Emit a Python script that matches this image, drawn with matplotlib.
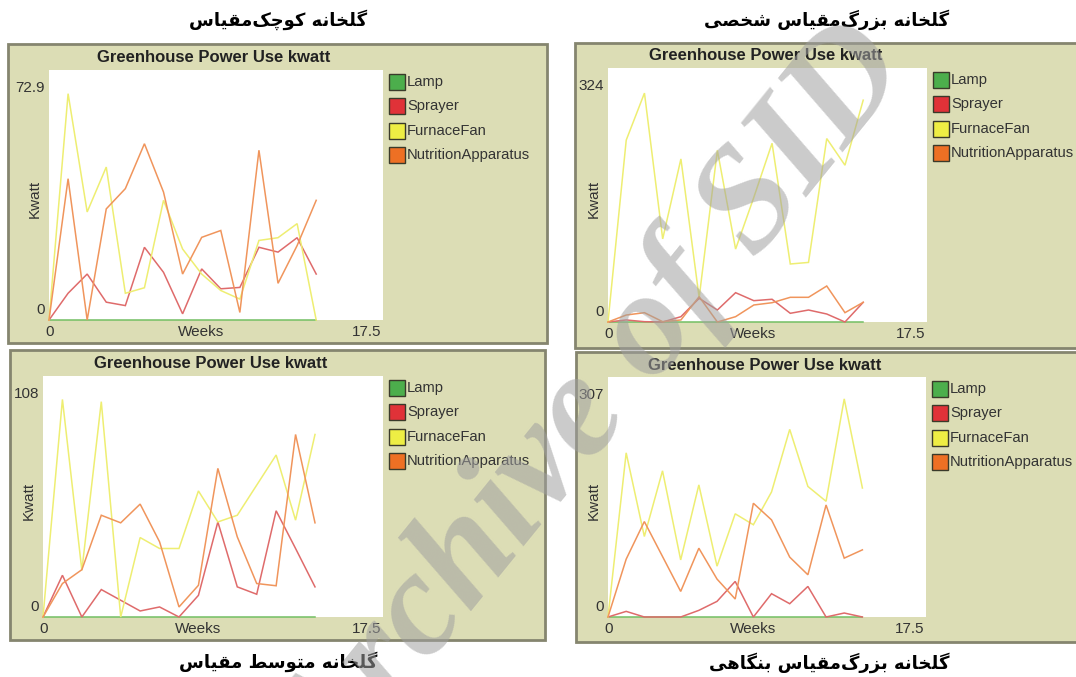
import matplotlib
matplotlib.use("Agg")
import matplotlib.pyplot as plt
from matplotlib.patches import Rectangle

# ---------------------------------------------------------------
# Datos
# ---------------------------------------------------------------
weeks = [0, 1, 2, 3, 4, 5, 6, 7, 8, 9, 10, 11, 12, 13, 14]
pen_names = ["Lamp", "Sprayer", "FurnaceFan", "NutritionApparatus"]
y_max_labels = ["72.9", "324", "108", "307"]
y_max_values = [72.9, 324, 108, 307]

lamp = [0, 0, 0, 0, 0, 0, 0, 0, 0, 0, 0, 0, 0, 0, 0]

# gulkhane kuchak-meqyas
small_sprayer = [0, 7.8, 13.4, 5.2, 4.2, 21.2, 13.9, 1.8, 14.9, 9.1, 9.5, 21.2, 19.8, 24.0, 13.4]
small_fan = [0, 66.0, 31.5, 44.6, 7.8, 9.4, 34.9, 20.7, 13.4, 8.6, 6.1, 23.2, 24.0, 28.1, 0]
small_nutrition = [0, 41.2, 0, 32.4, 38.3, 51.4, 37.3, 13.4, 24.1, 26.1, 2.2, 49.5, 10.7, 21.7, 34.9]

# gulkhane bozorg-meqyas shakhsi
personal_sprayer = [0, 2.6, 0.4, 0, 6.8, 30.2, 15.3, 37.4, 27.2, 29.0, 11.1, 15.3, 10.2, 0, 25.1]
personal_fan = [0, 232, 292, 106, 208, 31, 219, 93, 159, 228, 74, 76, 234, 200, 283]
personal_nutrition = [0, 8.9, 11.9, 0.4, 2.6, 32.3, 0, 6.8, 21.7, 24.6, 31.5, 31.5, 45.9, 11.9, 25.1]

# gulkhane motevaset
medium_sprayer = [0, 18.7, 0, 12.3, 7.5, 2.7, 4.5, 0, 9.7, 42.6, 13.5, 10.2, 47.6, 30.7, 13.5]
medium_fan = [0, 97.5, 20.9, 96.5, 0, 35.6, 30.7, 30.7, 56.5, 42.6, 45.6, 59.1, 72.6, 43.4, 81.8]
medium_nutrition = [0, 15.0, 21.2, 45.6, 42.2, 50.6, 33.7, 4.5, 14.2, 66.6, 35.9, 15.0, 14.0, 81.8, 42.2]

# gulkhane bozorg-meqyas bongahi
firm_sprayer = [0, 7.2, 0, 0, 0, 8.5, 20.0, 45.5, 0, 29.8, 17.0, 39.1, 0, 5.1, 0]
firm_fan = [0, 210, 103, 187, 73, 169, 65, 132, 118, 160, 240, 167, 148, 279, 165]
firm_nutrition = [0, 74.0, 122.1, 77.4, 32.7, 88.0, 48.5, 23.0, 145.5, 124.2, 76.6, 54.0, 143.3, 75.3, 85.9]

titles_fa = [
    "گلخانه کوچک\u200cمقیاس",
    "گلخانه بزرگ\u200cمقیاس شخصی",
    "گلخانه متوسط مقیاس",
    "گلخانه بزرگ\u200cمقیاس بنگاهی",
]

# ---------------------------------------------------------------
# Formas de presentacion arabes (matplotlib no hace "shaping")
# (aislada, final, inicial, media)
# ---------------------------------------------------------------
FORMS = {
    'ا': ('\uFE8D', '\uFE8E', None, None),
    'ب': ('\uFE8F', '\uFE90', '\uFE91', '\uFE92'),
    'ت': ('\uFE95', '\uFE96', '\uFE97', '\uFE98'),
    'خ': ('\uFEA5', '\uFEA6', '\uFEA7', '\uFEA8'),
    'ر': ('\uFEAD', '\uFEAE', None, None),
    'ز': ('\uFEAF', '\uFEB0', None, None),
    'س': ('\uFEB1', '\uFEB2', '\uFEB3', '\uFEB4'),
    'ش': ('\uFEB5', '\uFEB6', '\uFEB7', '\uFEB8'),
    'ص': ('\uFEB9', '\uFEBA', '\uFEBB', '\uFEBC'),
    'ط': ('\uFEC1', '\uFEC2', '\uFEC3', '\uFEC4'),
    'ق': ('\uFED5', '\uFED6', '\uFED7', '\uFED8'),
    'ل': ('\uFEDD', '\uFEDE', '\uFEDF', '\uFEE0'),
    'م': ('\uFEE1', '\uFEE2', '\uFEE3', '\uFEE4'),
    'ن': ('\uFEE5', '\uFEE6', '\uFEE7', '\uFEE8'),
    'ه': ('\uFEE9', '\uFEEA', '\uFEEB', '\uFEEC'),
    'و': ('\uFEED', '\uFEEE', None, None),
    'ی': ('\uFBFC', '\uFBFD', '\uFBFE', '\uFBFF'),
    'ک': ('\uFB8E', '\uFB8F', '\uFB90', '\uFB91'),
    'گ': ('\uFB92', '\uFB93', '\uFB94', '\uFB95'),
    'چ': ('\uFB7A', '\uFB7B', '\uFB7C', '\uFB7D'),
}


def shape_fa(text):
    chars = list(text)
    out = []
    for i, ch in enumerate(chars):
        if ch not in FORMS:
            if ch != '\u200c':
                out.append(ch)
            continue
        prev = chars[i - 1] if i > 0 else None
        nxt = chars[i + 1] if i + 1 < len(chars) else None
        join_prev = prev in FORMS and FORMS[prev][2] is not None
        join_next = FORMS[ch][2] is not None and nxt in FORMS
        if join_prev and join_next:
            out.append(FORMS[ch][3])
        elif join_prev:
            out.append(FORMS[ch][1])
        elif join_next:
            out.append(FORMS[ch][2])
        else:
            out.append(FORMS[ch][0])
    return ''.join(reversed(out))


# ---------------------------------------------------------------
# Figura
# ---------------------------------------------------------------
W, H = 1076, 677
fig = plt.figure(figsize=(W / 100, H / 100), dpi=100)
fig.patch.set_facecolor("white")


def fx(x):
    return x / W


def fy(y):
    return 1 - y / H


line_colors = ["#73bf63", "#df6b6b", "#eeee72", "#f0955c"]
swatch_colors = ["#4cae4c", "#e03238", "#eeee44", "#ee7024"]
panel_bg = "#dcddb5"
label_font = "Liberation Sans"

panels = [
    dict(box=(8, 44, 547, 343), plot=(49, 70, 383, 320), title_xy=(278, 20),
         data=[lamp, small_sprayer, small_fan, small_nutrition]),
    dict(box=(575, 43, 1080, 348), plot=(608, 68, 927, 322), title_xy=(827, 20),
         data=[lamp, personal_sprayer, personal_fan, personal_nutrition]),
    dict(box=(10, 350, 545, 640), plot=(43, 376, 383, 617), title_xy=(278, 662),
         data=[lamp, medium_sprayer, medium_fan, medium_nutrition]),
    dict(box=(576, 352, 1080, 642), plot=(608, 377, 926, 617), title_xy=(829, 663),
         data=[lamp, firm_sprayer, firm_fan, firm_nutrition]),
]

for k, p in enumerate(panels):
    bx0, by0, bx1, by1 = p["box"]
    fig.patches.append(Rectangle((fx(bx0), fy(by1)), (bx1 - bx0) / W, (by1 - by0) / H,
                                 transform=fig.transFigure, facecolor=panel_bg,
                                 edgecolor="#85856f", linewidth=2.0, zorder=-1))

    x0, y0, x1, y1 = p["plot"]
    ax = fig.add_axes([fx(x0), fy(y1), (x1 - x0) / W, (y1 - y0) / H])
    ax.set_zorder(1)
    ax.set_facecolor("white")
    for s in ax.spines.values():
        s.set_visible(False)
    ax.set_xticks([])
    ax.set_yticks([])
    ax.set_xlim(0, 17.5)
    ax.set_ylim(0, y_max_values[k])
    for series, c in zip(p["data"], line_colors):
        ax.plot(weeks, series, color=c, lw=1.1, clip_on=False, solid_joinstyle="miter")

    # etiquetas estilo NetLogo
    fig.text(fx(x0 - 4), fy(y0 + 18), y_max_labels[k], ha="right", va="center",
             fontsize=11, family=label_font, color="#333333")
    fig.text(fx(x0 - 4), fy(y1 - 10), "0", ha="right", va="center",
             fontsize=11, family=label_font, color="#333333")
    fig.text(fx(x0 + 1), fy(y1 + 12), "0", ha="center", va="center",
             fontsize=11, family=label_font, color="#333333")
    fig.text(fx(x0 + 0.455 * (x1 - x0)), fy(y1 + 12), "Weeks", ha="center", va="center",
             fontsize=11, family=label_font, color="#333333")
    fig.text(fx(x1 - 2), fy(y1 + 12), "17.5", ha="right", va="center",
             fontsize=11, family=label_font, color="#333333")
    fig.text(fx(x0 - 14), fy((y0 + y1) / 2 + 4), "Kwatt", ha="center", va="center",
             rotation=90, fontsize=11, family=label_font, color="#333333")
    fig.text(fx((x0 + x1) / 2 - 2), fy(y0 - 12), "Greenhouse Power Use kwatt",
             ha="center", va="center", fontsize=12, fontweight="bold",
             family=label_font, color="#222222")

    # leyenda
    for i, name in enumerate(pen_names):
        cy = y0 + 12 + 24.3 * i
        fig.patches.append(Rectangle((fx(x1 + 6), fy(cy + 8)), 16 / W, 16 / H,
                                     transform=fig.transFigure, facecolor=swatch_colors[i],
                                     edgecolor="#3a3a2a", linewidth=1.0, zorder=2))
        fig.text(fx(x1 + 24), fy(cy), name, ha="left", va="center",
                 fontsize=10.6, family=label_font, color="#333333")

    tx, ty = p["title_xy"]
    fig.text(fx(tx), fy(ty), shape_fa(titles_fa[k]), ha="center", va="center",
             fontsize=13, fontweight="bold", family=["DejaVu Sans"], color="black")

# marca de agua
fig.text(fx(596), fy(410), "Archive of SID", ha="center", va="center",
         rotation=51, rotation_mode="anchor", fontsize=107, fontweight="bold",
         fontstyle="italic", family="Liberation Serif", color="#a0a0a0", alpha=0.55,
         zorder=10)

fig.savefig("out.png", dpi=100)
